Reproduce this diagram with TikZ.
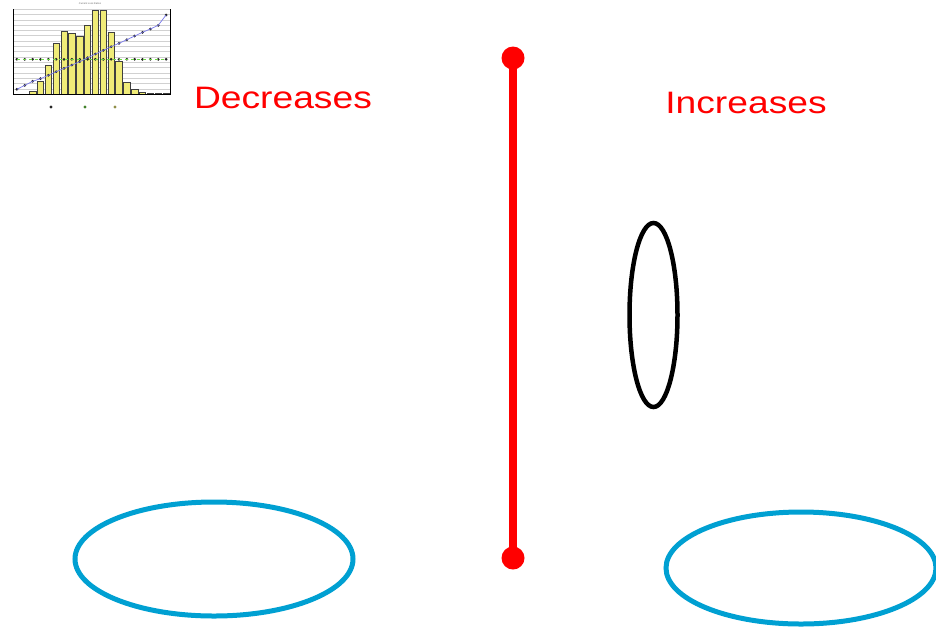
\documentclass[tikz,border=0pt]{standalone}
\usepackage{fontspec}
\setmainfont{Liberation Sans}
\usepackage{xcolor}
\usepackage{tikz}
\usetikzlibrary{shapes.geometric}
\definecolor{rodred}{RGB}{255,0,0}
\definecolor{ringblue}{RGB}{0,160,210}
\definecolor{baryellow}{RGB}{240,236,120}
\definecolor{trendblue}{RGB}{120,120,235}
\definecolor{flatgreen}{RGB}{110,215,70}

\begin{document}
\begin{tikzpicture}[x=1pt,y=-1pt,
  ring/.style={ellipse,draw=ringblue,line width=5pt,inner sep=0pt},
  lens/.style={ellipse,draw=black,line width=4.5pt,inner sep=0pt},
  knob/.style={circle,fill=rodred,inner sep=0pt,minimum size=23pt},
  word/.style={text=rodred,inner sep=0pt,font=\fontsize{31}{37}\selectfont},
  bar/.style={draw=black!75,line width=0.6pt,fill=baryellow},
  pt/.style={circle,fill=black!85,inner sep=0pt,minimum size=3pt},
  grid line/.style={black!18,line width=0.3pt}]
  \useasboundingbox (0,0) rectangle (936,627);

  % small chart, top left
  \node[font=\fontsize{2.5}{3}\selectfont,text=black!60] (title) at (90,4) {Current Loss Ratios};
  \foreach \g in {0,...,16}
    \draw[grid line] (13,{94-5.31*\g}) -- (170,{94-5.31*\g});
  \foreach \h [count=\i] in {0,0,3.0,12.4,29.1,50.9,63.2,60.6,57.6,68.3,83.7,83.7,61.6,32.5,12.0,4.3,1.7,0.7,0.3,0.3}
    \draw[bar] ({13+7.85*(\i-0.5)-3.2},94) rectangle ++(6.4,-\h);
  \draw[black,line width=0.6pt] (13,9) -- (13,94) -- (170,94) -- (170,9);
  % flat line
  \foreach \i in {1,...,20}
    \node[pt] (g\i) at ({13+7.85*(\i-0.5)},59.3) {};
  \draw[flatgreen,dashed,line width=1pt] (g1.center) -- (g20.center);
  % rising line
  \foreach \v [count=\i] in {89.3,85.3,81.3,78.7,75.3,71.7,68.3,65,61.7,57.7,54,50.3,46.7,43.3,39.7,36,32.3,29,25.3,15}
    \node[pt] (t\i) at ({13+7.85*(\i-0.5)},\v) {};
  \foreach \i [evaluate=\i as \j using int(\i+1)] in {1,...,19}
    \draw[trendblue,line width=0.7pt] (t\i.center) -- (t\j.center);
  % legend
  \node[pt,minimum size=3.2pt] (key1) at (51,107) {};
  \node[pt,minimum size=3.2pt,fill=flatgreen!60!black] (key2) at (85,107) {};
  \node[pt,minimum size=3.2pt,fill=baryellow!60!black] (key3) at (115,107) {};

  % labels
  \node[word] (down) at (283,98) {\scalebox{1.2}[1]{Decreases}};
  \node[word] (up) at (746,103) {\scalebox{1.2}[1]{Increases}};

  % red rod
  \node[knob] (rodtop) at (513,58) {};
  \node[knob] (rodbot) at (513,558) {};
  \draw[rodred,line width=7.5pt] (rodtop.center) -- (rodbot.center);

  % rings and lens
  \node[lens,minimum width=48pt,minimum height=184pt] (lens) at (653.5,315) {};
  \node[ring,minimum width=278pt,minimum height=114pt] (leftring) at (214,559) {};
  \node[ring,minimum width=270pt,minimum height=112pt] (rightring) at (801,568) {};
\end{tikzpicture}
\end{document}
